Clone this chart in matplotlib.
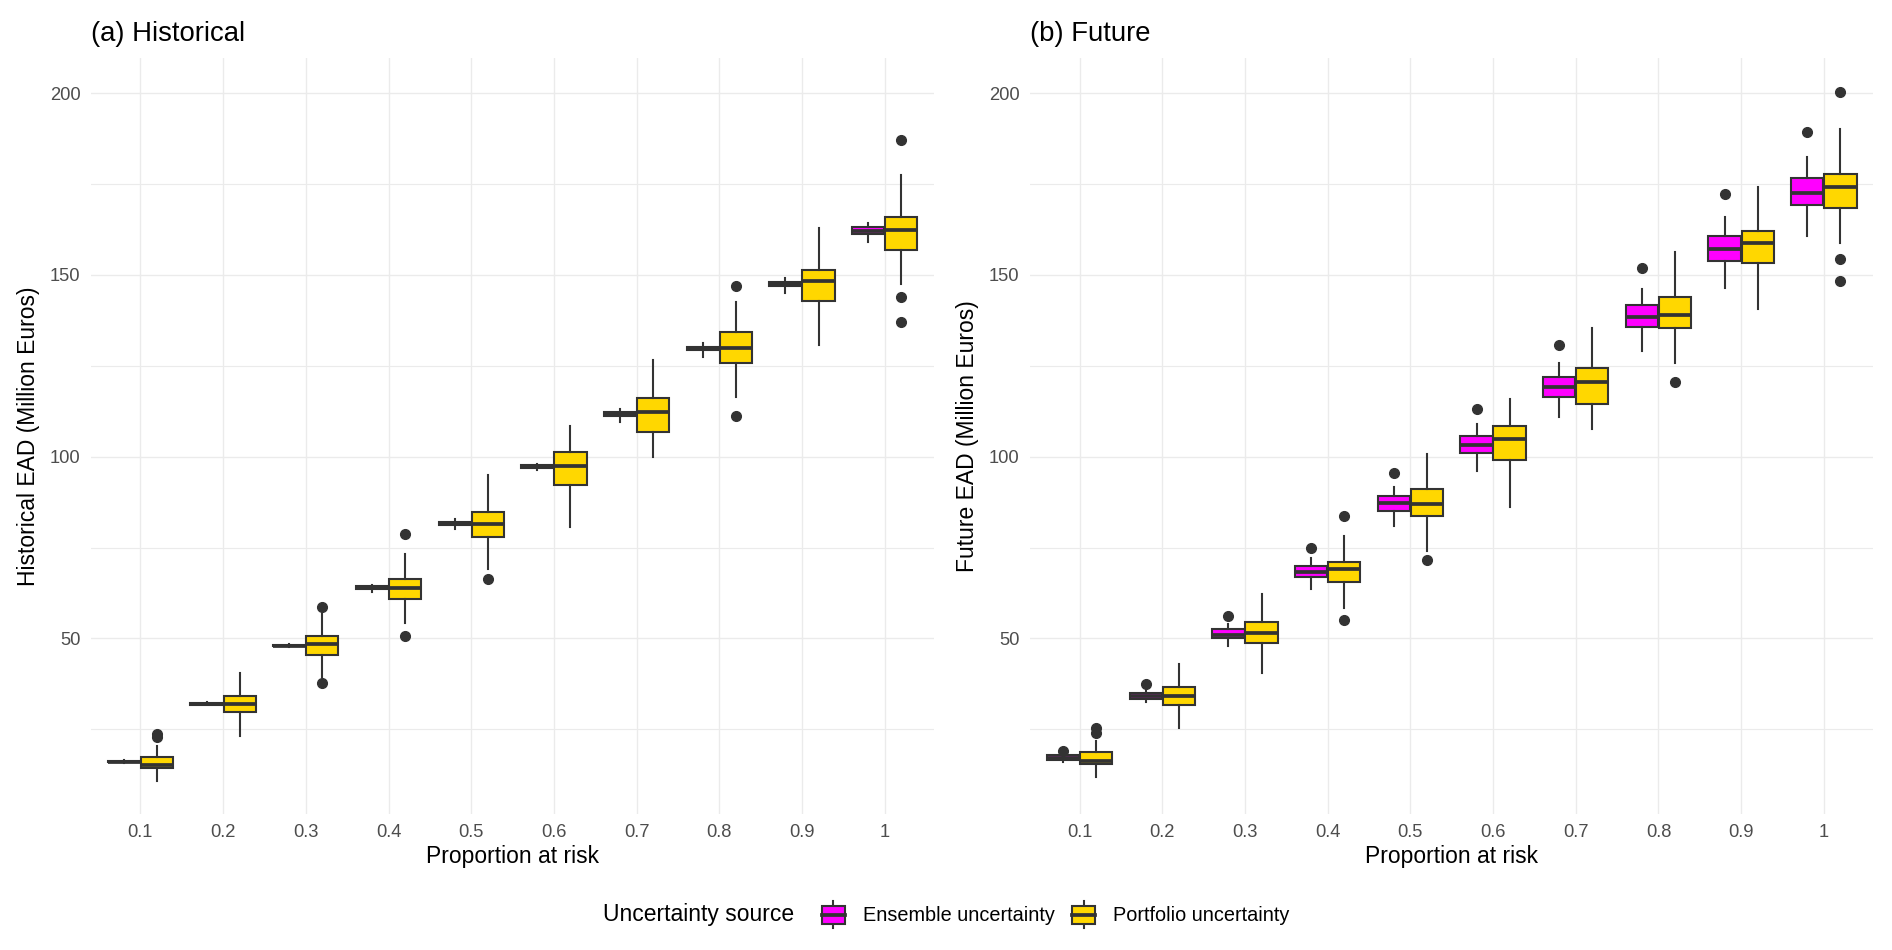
import matplotlib
matplotlib.use("Agg")
import matplotlib.pyplot as plt
from matplotlib.patches import Patch, Rectangle
from matplotlib.lines import Line2D
from matplotlib.legend_handler import HandlerBase
from matplotlib.ticker import MultipleLocator

plt.rcParams["font.family"] = ["Liberation Sans", "DejaVu Sans"]

# proportion at risk categories
proportions = ["0.1", "0.2", "0.3", "0.4", "0.5", "0.6", "0.7", "0.8", "0.9", "1"]

# (a) Historical - ensemble uncertainty
hist_ens_q1 = [15.9, 31.8, 47.8, 63.6, 81.2, 96.8, 111.2, 129.3, 147.0, 161.3]
hist_ens_med = [16.1, 32.0, 48.0, 64.0, 81.7, 97.2, 111.7, 129.8, 147.5, 162.2]
hist_ens_q3 = [16.3, 32.2, 48.3, 64.3, 82.1, 97.6, 112.2, 130.3, 148.0, 163.2]
hist_ens_lo = [15.7, 31.6, 47.6, 62.9, 80.2, 96.3, 109.6, 127.5, 145.0, 159.0]
hist_ens_hi = [16.5, 32.4, 48.5, 64.7, 82.8, 98.1, 113.0, 131.4, 149.1, 164.3]
hist_ens_out = [[], [], [], [], [], [], [], [], [], []]

# (a) Historical - portfolio uncertainty
hist_port_q1 = [14.3, 29.7, 45.4, 60.8, 77.8, 92.2, 106.9, 125.7, 142.7, 156.9]
hist_port_med = [15.2, 32.0, 48.4, 63.9, 81.4, 97.5, 112.2, 129.8, 148.2, 162.5]
hist_port_q3 = [17.4, 34.2, 50.7, 66.4, 84.9, 101.2, 116.2, 134.2, 151.4, 165.9]
hist_port_lo = [10.8, 23.2, 39.5, 54.3, 69.0, 80.6, 100.0, 116.4, 130.7, 147.6]
hist_port_hi = [20.5, 40.4, 56.6, 73.2, 94.9, 108.4, 126.6, 142.5, 162.8, 177.6]
hist_port_out = [[23.7, 22.8], [], [58.7, 37.6], [78.8, 50.6], [66.3], [], [],
                 [147.0, 111.3], [], [187.2, 143.9, 137.0]]

# (b) Future - ensemble uncertainty
fut_ens_q1 = [16.5, 33.3, 50.0, 66.8, 85.1, 101.1, 116.5, 135.8, 153.9, 169.2]
fut_ens_med = [17.2, 34.1, 51.0, 68.4, 87.2, 103.2, 119.1, 138.5, 157.1, 172.6]
fut_ens_q3 = [17.8, 35.0, 52.6, 70.0, 89.1, 105.6, 121.8, 141.6, 160.7, 176.7]
fut_ens_lo = [16.1, 32.6, 47.9, 63.6, 81.0, 96.1, 111.0, 129.1, 146.5, 160.8]
fut_ens_hi = [18.0, 35.8, 54.0, 72.1, 91.7, 109.0, 125.9, 146.2, 166.0, 182.4]
fut_ens_out = [[19.1], [37.5], [56.3], [75.0], [95.4], [113.2], [130.7], [151.8],
               [172.2], [189.4]]

# (b) Future - portfolio uncertainty
fut_port_q1 = [15.4, 31.7, 48.8, 65.6, 83.6, 99.1, 114.4, 135.3, 153.2, 168.5]
fut_port_med = [16.2, 34.2, 51.6, 69.0, 87.1, 104.9, 120.5, 139.0, 158.9, 174.2]
fut_port_q3 = [18.8, 36.7, 54.4, 71.1, 91.1, 108.4, 124.3, 143.9, 162.1, 177.7]
fut_port_lo = [11.8, 25.3, 40.6, 58.4, 74.1, 86.2, 107.6, 125.7, 140.6, 158.9]
fut_port_hi = [21.9, 43.0, 62.2, 78.3, 100.7, 115.8, 135.5, 156.4, 174.1, 190.1]
fut_port_out = [[25.4, 24.1], [], [], [83.7, 55.1], [71.6], [], [], [120.5], [],
                [200.4, 154.3, 148.2]]

ENS_COLOR = "#FF00FF"
PORT_COLOR = "#FFD700"
LINE_COLOR = "#333333"
GRID_COLOR = "#EBEBEB"


def make_stats(q1, med, q3, lo, hi, out):
    return [dict(q1=a, med=b, q3=c, whislo=d, whishi=e, fliers=f)
            for a, b, c, d, e, f in zip(q1, med, q3, lo, hi, out)]


def draw_boxes(ax, stats, offset, color):
    pos = [i + 1 + offset for i in range(len(stats))]
    ax.bxp(stats, positions=pos, widths=0.39, patch_artist=True,
           showcaps=False, manage_ticks=False,
           boxprops=dict(facecolor=color, edgecolor=LINE_COLOR, linewidth=1.5),
           medianprops=dict(color=LINE_COLOR, linewidth=2.7, solid_capstyle="butt"),
           whiskerprops=dict(color=LINE_COLOR, linewidth=1.5),
           flierprops=dict(marker="o", markersize=7, markerfacecolor=LINE_COLOR,
                           markeredgecolor=LINE_COLOR))


def style_axes(ax, title, ylabel):
    ax.set_xlim(0.4, 10.6)
    ax.set_ylim(1.6, 209.6)
    ax.set_xticks(range(1, len(proportions) + 1))
    ax.set_xticklabels(proportions)
    ax.yaxis.set_major_locator(MultipleLocator(50))
    ax.yaxis.set_minor_locator(MultipleLocator(25))
    ax.set_yticks([50, 100, 150, 200])
    ax.grid(which="major", color=GRID_COLOR, linewidth=1.0)
    ax.grid(which="minor", axis="y", color=GRID_COLOR, linewidth=0.8)
    ax.set_axisbelow(True)
    for s in ax.spines.values():
        s.set_visible(False)
    ax.tick_params(which="both", length=0, labelsize=13.2, labelcolor="#4D4D4D")
    ax.tick_params(axis="y", pad=7.5)
    ax.tick_params(axis="x", pad=7)
    ax.set_title(title, loc="left", fontsize=19.8, pad=12.5)
    ax.set_xlabel("Proportion at risk", fontsize=16.5, labelpad=3)
    ax.set_ylabel(ylabel, fontsize=16.5, labelpad=7)


class BoxKey(HandlerBase):
    # ggplot-style boxplot key: box, median line and whisker
    def create_artists(self, legend, orig_handle, xdescent, ydescent,
                       width, height, fontsize, trans):
        cx = width / 2 - xdescent
        bh = height * 0.68
        by = (height - bh) / 2 - ydescent
        whisk = Line2D([cx, cx], [-ydescent, height - ydescent],
                       color=LINE_COLOR, linewidth=1.5, transform=trans)
        box = Rectangle((-xdescent, by), width, bh,
                        facecolor=orig_handle.get_facecolor(),
                        edgecolor=LINE_COLOR, linewidth=1.5, transform=trans)
        mid = by + bh / 2
        med = Line2D([-xdescent, width - xdescent], [mid, mid],
                     color=LINE_COLOR, linewidth=2.7, transform=trans)
        return [whisk, box, med]


fig = plt.figure(figsize=(18.92, 9.5), dpi=100)
ax1 = fig.add_axes([0.0480, 0.1428, 0.4458, 0.7958])
ax2 = fig.add_axes([0.5444, 0.1428, 0.4458, 0.7958])

draw_boxes(ax1, make_stats(hist_ens_q1, hist_ens_med, hist_ens_q3,
                           hist_ens_lo, hist_ens_hi, hist_ens_out), -0.2, ENS_COLOR)
draw_boxes(ax1, make_stats(hist_port_q1, hist_port_med, hist_port_q3,
                           hist_port_lo, hist_port_hi, hist_port_out), 0.2, PORT_COLOR)
draw_boxes(ax2, make_stats(fut_ens_q1, fut_ens_med, fut_ens_q3,
                           fut_ens_lo, fut_ens_hi, fut_ens_out), -0.2, ENS_COLOR)
draw_boxes(ax2, make_stats(fut_port_q1, fut_port_med, fut_port_q3,
                           fut_port_lo, fut_port_hi, fut_port_out), 0.2, PORT_COLOR)

style_axes(ax1, "(a) Historical", "Historical EAD (Million Euros)")
style_axes(ax2, "(b) Future", "Future EAD (Million Euros)")

# legend at the bottom, title to the left of the keys
leg_y = 0.037
fig.text(603 / 1892, leg_y, "Uncertainty source", fontsize=16.5,
         va="center", ha="left")
handles = [Patch(facecolor=ENS_COLOR), Patch(facecolor=PORT_COLOR)]
fig.legend(handles, ["Ensemble uncertainty", "Portfolio uncertainty"],
           handler_map={Patch: BoxKey()}, ncol=2, frameon=False,
           loc="center left", bbox_to_anchor=(822 / 1892, leg_y),
           fontsize=14.3, handlelength=1.15, handleheight=1.7,
           handletextpad=0.9, columnspacing=0.9, borderpad=0,
           borderaxespad=0)

fig.savefig("out.png", dpi=100, facecolor="white")
